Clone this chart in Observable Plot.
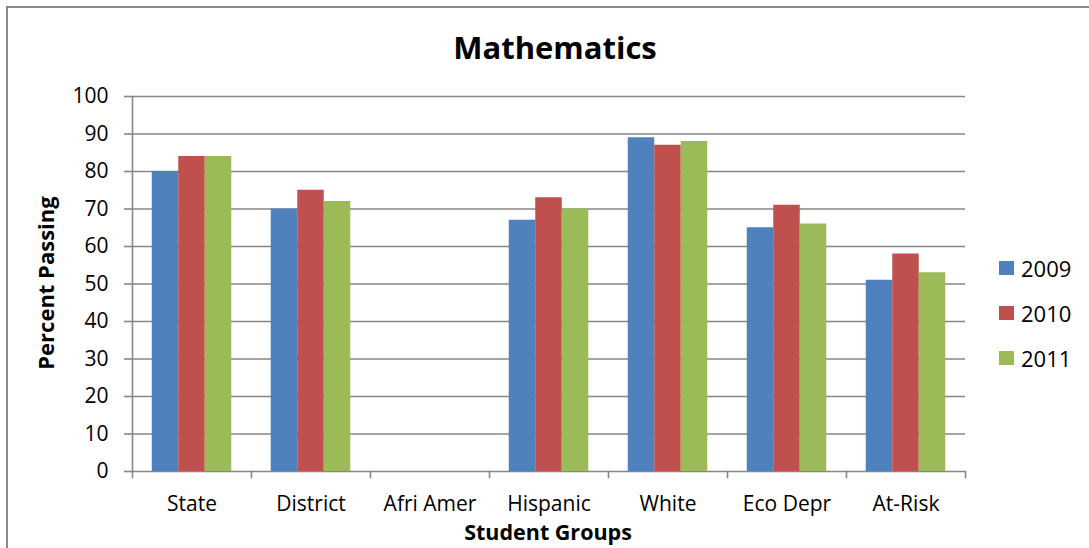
<!DOCTYPE html>
<html>
<head>
<meta charset="utf-8">
<script src="https://cdn.jsdelivr.net/npm/d3@7"></script>
<script src="https://cdn.jsdelivr.net/npm/@observablehq/plot@0.6"></script>
<style>
  html, body { margin: 0; padding: 0; background: #fff; }
  #wrap { position: relative; width: 1089px; height: 548px; overflow: hidden; font-family: "Open Sans", sans-serif; color: #000; }
  #wrap svg { position: absolute; left: 0; top: 0; }
  .border-top { position: absolute; left: 7px; top: 6px; width: 1090px; height: 2px; background: #8a8a8a; }
  .border-left { position: absolute; left: 6px; top: 6px; width: 2px; height: 560px; background: #8a8a8a; }
  .title { position: absolute; left: 555px; top: 47px; transform: translate(-50%, -50%); font-size: 31px; font-weight: bold; white-space: nowrap; line-height: 1; }
  .ylabel { position: absolute; left: 45px; top: 283px; transform: translate(-50%, -50%) rotate(-90deg); font-size: 22px; font-weight: bold; white-space: nowrap; line-height: 1; }
  .xlabel { position: absolute; left: 548px; top: 532px; transform: translate(-50%, -50%); font-size: 21.5px; font-weight: bold; white-space: nowrap; line-height: 1.1; }
  .legend { position: absolute; left: 999px; top: 0; }
  .legend .item { position: absolute; left: 0; height: 30px; display: flex; align-items: center; white-space: nowrap; font-size: 22px; line-height: 1; }
  .legend .sw { display: inline-block; width: 15px; height: 14px; margin-right: 7px; }
</style>
</head>
<body>
<div id="wrap">
  <div class="border-top"></div>
  <div class="border-left"></div>
</div>
<script>
const groups = ["State", "District", "Afri Amer", "Hispanic", "White", "Eco Depr", "At-Risk"];
const years = ["2009", "2010", "2011"];
const colors = ["#4F81BD", "#C0504D", "#9BBB59"];
const values2009 = [80, 70, null, 67, 89, 65, 51];
const values2010 = [84, 75, null, 73, 87, 71, 58];
const values2011 = [84, 72, null, 70, 88, 66, 53];
const yTicks = [0, 10, 20, 30, 40, 50, 60, 70, 80, 90, 100];
const title = "Mathematics";
const yLabel = "Percent Passing";
const xLabel = "Student Groups";

const series = [values2009, values2010, values2011];
const data = [];
groups.forEach((g, i) => {
  years.forEach((y, j) => {
    data.push({group: g, year: y, value: series[j][i]});
  });
});

const gray = "#878787";
const chart = Plot.plot({
  width: 1089,
  height: 548,
  marginLeft: 132,
  marginRight: 124,
  marginTop: 96,
  marginBottom: 77,
  style: {fontFamily: "'Open Sans', sans-serif", color: "#000", background: "transparent"},
  fx: {domain: groups, paddingInner: 0, paddingOuter: 0, round: false},
  x: {domain: years, paddingInner: 0, paddingOuter: 0.745, round: false, axis: null},
  y: {domain: [0, 100]},
  color: {domain: years, range: colors},
  marks: [
    Plot.gridY(yTicks.filter(d => d > 0), {stroke: gray, strokeOpacity: 1, strokeWidth: 1.6}),
    Plot.ruleY([0], {stroke: gray, strokeWidth: 1.6}),
    Plot.frame({anchor: "left", insetTop: 375, insetBottom: -6, stroke: gray, strokeWidth: 1.6}),
    Plot.frame({anchor: "right", facetAnchor: "right", insetTop: 375, insetBottom: -6, stroke: gray, strokeWidth: 1.6}),
    Plot.frame({anchor: "left", facetAnchor: "left", stroke: gray, strokeWidth: 1.6}),
    Plot.axisY({ticks: yTicks, tickSize: 8, tickPadding: 16, stroke: gray, strokeWidth: 1.6, fontSize: 21, label: null, facetAnchor: "left"}),
    Plot.barY(data, {fx: "group", x: "year", y: "value", fill: "year", inset: 0}),
    Plot.axisFx({anchor: "bottom", tickSize: 0, tickPadding: 25, fontSize: 21, label: null})
  ]
});
const wrap = document.getElementById("wrap");
wrap.insertBefore(chart, wrap.firstChild);

function addDiv(cls, text) {
  const d = document.createElement("div");
  d.className = cls;
  if (text != null) d.textContent = text;
  wrap.appendChild(d);
  return d;
}
addDiv("title", title);
addDiv("ylabel", yLabel);
addDiv("xlabel", xLabel);
const legend = addDiv("legend", null);
const legendY = [268, 313, 358];
years.forEach((y, i) => {
  const it = document.createElement("div");
  it.className = "item";
  it.style.top = (legendY[i] - 15) + "px";
  const sw = document.createElement("span");
  sw.className = "sw";
  sw.style.background = colors[i];
  it.appendChild(sw);
  it.appendChild(document.createTextNode(y));
  legend.appendChild(it);
});
</script>
</body>
</html>
